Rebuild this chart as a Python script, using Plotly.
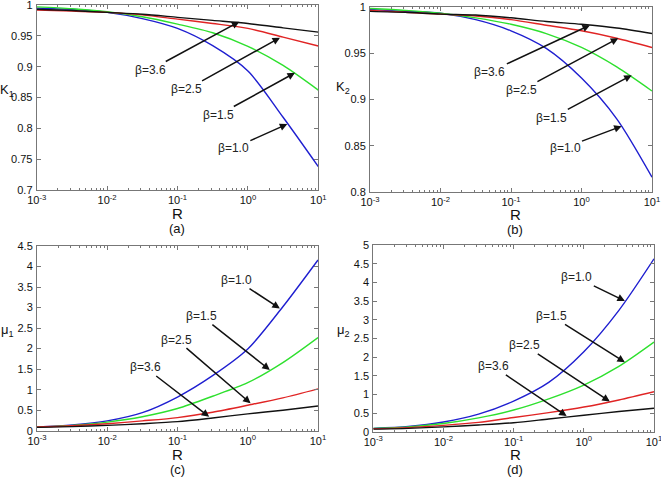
import plotly.graph_objects as go

# ---------------- data ----------------
R = [0.001, 0.00316, 0.01, 0.0316, 0.1, 0.316, 1.0, 3.16, 10.0]
betas = ["1.0", "1.5", "2.5", "3.6"]

K1_b10 = [0.995, 0.993, 0.988, 0.978, 0.962, 0.934, 0.893, 0.818, 0.738]
K1_b15 = [0.997, 0.994, 0.989, 0.981, 0.969, 0.955, 0.933, 0.902, 0.862]
K1_b25 = [0.992, 0.990, 0.988, 0.984, 0.977, 0.970, 0.962, 0.948, 0.9335]
K1_b36 = [0.993, 0.991, 0.988, 0.985, 0.980, 0.975, 0.970, 0.963, 0.956]

K2_b10 = [0.997, 0.995, 0.993, 0.986, 0.974, 0.955, 0.923, 0.879, 0.816]
K2_b15 = [0.998, 0.996, 0.993, 0.988, 0.981, 0.971, 0.956, 0.935, 0.909]
K2_b25 = [0.996, 0.994, 0.992, 0.990, 0.986, 0.980, 0.974, 0.966, 0.956]
K2_b36 = [0.995, 0.994, 0.992, 0.991, 0.988, 0.984, 0.981, 0.977, 0.971]

mu1_b10 = [0.09, 0.14, 0.24, 0.44, 0.82, 1.34, 1.99, 3.02, 4.16]
mu1_b15 = [0.09, 0.13, 0.21, 0.34, 0.54, 0.84, 1.17, 1.66, 2.27]
mu1_b25 = [0.09, 0.12, 0.17, 0.24, 0.32, 0.45, 0.62, 0.80, 1.02]
mu1_b36 = [0.08, 0.10, 0.13, 0.17, 0.22, 0.31, 0.41, 0.50, 0.60]

mu2_b10 = [0.09, 0.14, 0.26, 0.47, 0.82, 1.32, 2.14, 3.25, 4.63]
mu2_b15 = [0.09, 0.13, 0.22, 0.37, 0.58, 0.88, 1.25, 1.75, 2.40]
mu2_b25 = [0.08, 0.11, 0.17, 0.25, 0.38, 0.51, 0.66, 0.85, 1.07]
mu2_b36 = [0.07, 0.09, 0.13, 0.18, 0.24, 0.34, 0.44, 0.54, 0.63]

x_tickvals = [0.001, 0.01, 0.1, 1, 10]
x_ticktext = ["10<sup>-3</sup>", "10<sup>-2</sup>", "10<sup>-1</sup>", "10<sup>0</sup>", "10<sup>1</sup>"]

yA_vals = [0.7, 0.75, 0.8, 0.85, 0.9, 0.95, 1.0]
yA_text = ["0.7", "0.75", "0.8", "0.85", "0.9", "0.95", "1"]
yB_vals = [0.8, 0.85, 0.9, 0.95, 1.0]
yB_text = ["0.8", "0.85", "0.9", "0.95", "1"]
yC_vals = [0, 0.5, 1, 1.5, 2, 2.5, 3, 3.5, 4, 4.5]
yC_text = ["0", "0.5", "1", "1.5", "2", "2.5", "3", "3.5", "4", "4.5"]
yD_vals = [0, 0.5, 1, 1.5, 2, 2.5, 3, 3.5, 4, 4.5, 5]
yD_text = ["0", "0.5", "1", "1.5", "2", "2.5", "3", "3.5", "4", "4.5", "5"]

colors = {"1.0": "#1f1fd0", "1.5": "#2ee02e", "2.5": "#e02424", "3.6": "#111111"}

panels = [
    ("x", "y", [K1_b10, K1_b15, K1_b25, K1_b36]),
    ("x2", "y2", [K2_b10, K2_b15, K2_b25, K2_b36]),
    ("x3", "y3", [mu1_b10, mu1_b15, mu1_b25, mu1_b36]),
    ("x4", "y4", [mu2_b10, mu2_b15, mu2_b25, mu2_b36]),
]

fig = go.Figure()
for xa, ya, series in panels:
    for b, vals in zip(betas, series):
        fig.add_trace(go.Scatter(x=R, y=vals, xaxis=xa, yaxis=ya, mode="lines",
                                 line=dict(color=colors[b], width=1.4, shape="spline", smoothing=0.8),
                                 showlegend=False, hoverinfo="skip"))

FAM = "Liberation Sans, Arial, sans-serif"
font = dict(family=FAM, size=11, color="#111")
axcommon = dict(showline=True, linecolor="#777", linewidth=1, mirror="ticks",
                ticks="inside", ticklen=4, tickcolor="#777", showgrid=False, zeroline=False,
                tickfont=font, automargin=False, ticklabeloverflow="allow")

def xaxis(domain, anchor):
    return dict(axcommon, type="log", range=[-3, 1], domain=domain, anchor=anchor,
                tickvals=x_tickvals, ticktext=x_ticktext, ticklabelstandoff=0,
                minor=dict(ticks="inside", ticklen=2, tickcolor="#777",
                           tickvals=[m * 10 ** e for e in range(-3, 1) for m in range(2, 10)]))

def yaxis(domain, anchor, rng, vals, text):
    return dict(axcommon, range=rng, domain=domain, anchor=anchor, tickvals=vals, ticktext=text,
                ticklabelstandoff=1)

W, H = 661, 479
def fx(p):
    return p / W
def fy(p):
    return 1 - p / H

fig.update_layout(
    width=W, height=H, margin=dict(l=0, r=0, t=0, b=0, autoexpand=False),
    paper_bgcolor="white", plot_bgcolor="white",
    xaxis=xaxis([fx(36.7), fx(318.3)], "y"),
    yaxis=yaxis([fy(190), fy(5)], "x", [0.7, 1.0], yA_vals, yA_text),
    xaxis2=xaxis([fx(370), fx(652)], "y2"),
    yaxis2=yaxis([fy(192), fy(6.7)], "x2", [0.8, 1.0], yB_vals, yB_text),
    xaxis3=xaxis([fx(37), fx(318)], "y3"),
    yaxis3=yaxis([fy(430.7), fy(246)], "x3", [0, 4.5], yC_vals, yC_text),
    xaxis4=xaxis([fx(373.3), fx(654)], "y4"),
    yaxis4=yaxis([fy(431.7), fy(245)], "x4", [0, 5], yD_vals, yD_text),
)

ann = []
# beta labels with arrows: (xref, yref, text, text_x(log), text_y, tip_x(log), tip_y)
arrows = [
    ("x", "y", "β=3.6", -1.39, 0.8946, -0.122, 0.9729),
    ("x", "y", "β=2.5", -0.869, 0.8633, 0.456, 0.947),
    ("x", "y", "β=1.5", -0.42, 0.8216, 0.669, 0.890),
    ("x", "y", "β=1.0", -0.207, 0.7676, 0.56, 0.807),
    ("x2", "y2", "β=3.6", -1.30, 0.9297, 0.12, 0.980),
    ("x2", "y2", "β=2.5", -0.85, 0.910, 0.522, 0.966),
    ("x2", "y2", "β=1.5", -0.42, 0.880, 0.712, 0.926),
    ("x2", "y2", "β=1.0", -0.234, 0.848, 0.57, 0.871),
    ("x3", "y3", "β=1.0", -0.16, 3.67, 0.457, 2.98),
    ("x3", "y3", "β=1.5", -0.657, 2.79, 0.314, 1.48),
    ("x3", "y3", "β=2.5", -1.013, 2.22, 0.04, 0.667),
    ("x3", "y3", "β=3.6", -1.46, 1.54, -0.549, 0.34),
    ("x4", "y4", "β=1.0", -0.10, 4.13, 0.585, 3.50),
    ("x4", "y4", "β=1.5", -0.46, 3.10, 0.585, 1.86),
    ("x4", "y4", "β=2.5", -0.84, 2.31, 0.37, 0.81),
    ("x4", "y4", "β=3.6", -1.29, 1.75, -0.245, 0.42),
]
for xr, yr, t, tx, ty, px, py in arrows:
    ann.append(dict(xref=xr, yref=yr, axref=xr, ayref=yr, x=px, y=py, ax=tx, ay=ty,
                    text=t, showarrow=True, arrowhead=2, arrowsize=1, arrowwidth=1.5,
                    arrowcolor="#111", font=dict(family=FAM, size=12, color="#222")))

def label(t, px, py, size):
    return dict(xref="paper", yref="paper", x=fx(px), y=fy(py), text=t, showarrow=False,
                xanchor="center", yanchor="middle",
                font=dict(family=FAM, size=size, color="#111"))

for t, px, py in [("K<sub>1</sub>", 7, 90), ("K<sub>2</sub>", 343, 88),
                  ("μ<sub>1</sub>", 7, 330), ("μ<sub>2</sub>", 343, 330)]:
    ann.append(label(t, px, py, 13))

for px, py in [(177, 213), (515, 214), (177, 454), (515, 454)]:
    ann.append(label("R", px, py, 15))

for t, px, py in [("(a)", 177, 229), ("(b)", 515, 230), ("(c)", 177, 469), ("(d)", 515, 469)]:
    ann.append(label(t, px, py, 13))

fig.update_layout(annotations=ann)
fig.write_html("out.html", config={"displayModeBar": False},
               post_script="document.body.style.margin='0';document.body.style.overflow='hidden';")
